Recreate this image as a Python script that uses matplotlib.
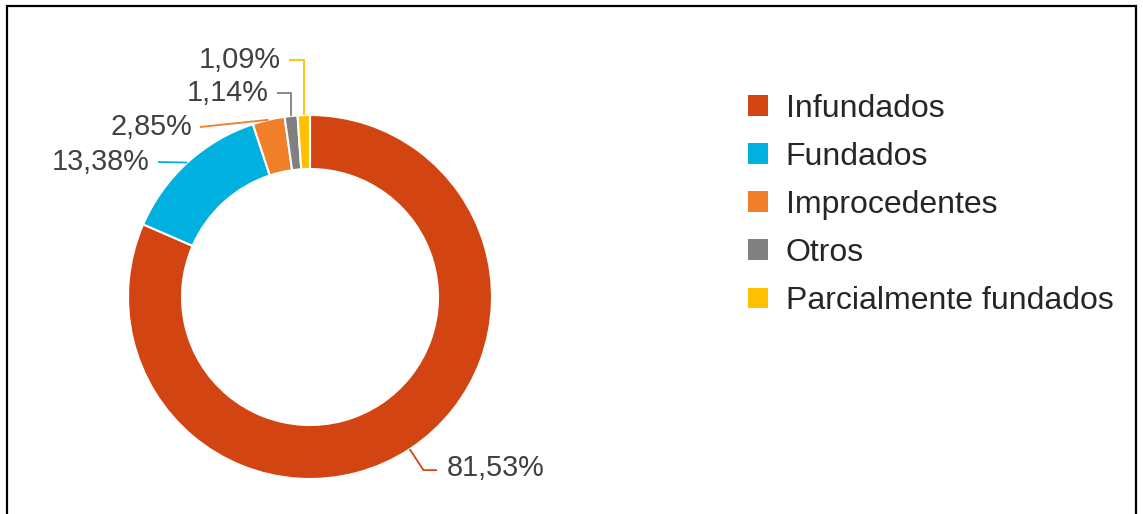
import numpy as np
import matplotlib.pyplot as plt
from matplotlib.patches import Patch

plt.rcParams['font.family'] = ['Liberation Sans', 'DejaVu Sans']

# datos del grafico
categorias = ['Infundados', 'Fundados', 'Improcedentes', 'Otros', 'Parcialmente fundados']
porcentajes = [81.53, 13.38, 2.85, 1.14, 1.09]
colores = ['#D24411', '#00B0DE', '#F07F2A', '#808080', '#FFC000']

W, H = 1143, 514
fig = plt.figure(figsize=(W / 100, H / 100), dpi=100)
ax = fig.add_axes([0, 0, 1, 1])

# dona en coordenadas de pixel (y hacia arriba)
cx, cy = 310, H - 297
R = 182
wedges, _ = ax.pie(porcentajes, colors=colores, startangle=90, counterclock=False,
                   radius=R, center=(cx, cy),
                   wedgeprops=dict(width=54, edgecolor='white', linewidth=1.5))

ax.set_xlim(0, W)
ax.set_ylim(0, H)
ax.set_aspect('equal')
ax.axis('off')

# posicion de cada etiqueta: (x texto, y texto, alineacion, codo del conector)
# y medido desde arriba
etiquetas = [
    (447, 467, 'left', 'radial'),
    (150, 162, 'right', 'recto'),
    (192, 127, 'right', 'recto'),
    (269, 93, 'right', 'vertical'),
    (281, 60, 'right', 'vertical'),
]

color_txt = '#404040'
for w, val, col, (tx, ty, ha, tipo) in zip(wedges, porcentajes, colores, etiquetas):
    ang = np.deg2rad((w.theta1 + w.theta2) / 2)
    px, py = cx + R * np.cos(ang), cy + R * np.sin(ang)
    ty = H - ty
    if ha == 'left':
        fin = tx - 10
    else:
        fin = tx + 8
    if tipo == 'radial':
        ex, ey = cx + (R + 25) * np.cos(ang), cy + (R + 25) * np.sin(ang)
        xs, ys = [px, ex, fin], [py, ey, ey]
        ty = ey + 2
    elif tipo == 'vertical':
        xs, ys = [px, px, fin], [py, ty, ty]
    else:
        xs, ys = [px, fin], [py, ty]
    ax.plot(xs, ys, color=col, lw=1.3, solid_capstyle='butt')
    ax.text(tx, ty, ('%.2f%%' % val).replace('.', ','), ha=ha, va='center',
            fontsize=20.8, color=color_txt)

# leyenda
handles = [Patch(facecolor=c, edgecolor='none') for c in colores]
ax.legend(handles, categorias, loc='upper left', bbox_to_anchor=(748, H - 94),
          bbox_transform=ax.transData, frameon=False, fontsize=23,
          handlelength=0.627, handleheight=0.627, handletextpad=0.55,
          labelspacing=0.565, borderpad=0, borderaxespad=0, labelcolor='#262626')

# marco
ax.plot([7, 7, 1136, 1136], [-5, H - 6, H - 6, -5], color='black', lw=1.6,
        solid_joinstyle='miter', clip_on=False)

fig.savefig('out.png', dpi=100)
